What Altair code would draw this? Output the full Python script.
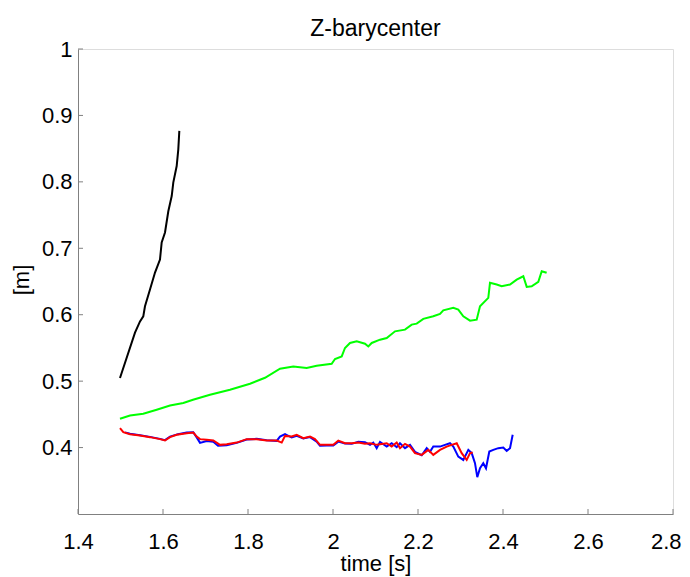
import altair as alt
import pandas as pd

black_t = [1.4988, 1.5341, 1.5459, 1.5536, 1.5576, 1.5694, 1.5812, 1.5929, 1.5969, 1.6047,
           1.6125, 1.6205, 1.6242, 1.6322, 1.6360, 1.6384]
black_v = [0.5047, 0.5730, 0.5900, 0.5976, 0.6127, 0.6379, 0.6635, 0.6831, 0.7088, 0.7238,
           0.7557, 0.7786, 0.7988, 0.8238, 0.8490, 0.8767]

green_t = [1.4988, 1.5224, 1.5536, 1.5852, 1.6165, 1.6478, 1.6706, 1.7106, 1.7576, 1.8047,
           1.8400, 1.8753, 1.9066, 1.9381, 1.9616, 1.9969, 2.0047, 2.0205, 2.0282, 2.0400,
           2.0558, 2.0753, 2.0831, 2.0911, 2.1106, 2.1264, 2.1459, 2.1694, 2.1852, 2.1969,
           2.2125, 2.2360, 2.2518, 2.2595, 2.2831, 2.2948, 2.3066, 2.3224, 2.3381, 2.3459,
           2.3654, 2.3694, 2.3852, 2.3969, 2.4165, 2.4322, 2.4478, 2.4558, 2.4675, 2.4831,
           2.4911, 2.4988, 2.5027]
green_v = [0.4433, 0.4483, 0.4508, 0.4569, 0.4633, 0.4670, 0.4719, 0.4795, 0.4870, 0.4961,
           0.5051, 0.5187, 0.5222, 0.5198, 0.5232, 0.5262, 0.5333, 0.5373, 0.5499, 0.5575,
           0.5599, 0.5564, 0.5523, 0.5575, 0.5624, 0.5650, 0.5750, 0.5775, 0.5851, 0.5866,
           0.5937, 0.5976, 0.6012, 0.6066, 0.6103, 0.6077, 0.5976, 0.5911, 0.5926, 0.6127,
           0.6253, 0.6480, 0.6454, 0.6428, 0.6454, 0.6529, 0.6579, 0.6419, 0.6428, 0.6495,
           0.6655, 0.6640, 0.6631]

blue_t = [1.5106, 1.5224, 1.5459, 1.5694, 1.5929, 1.6047, 1.6165, 1.6353, 1.6558, 1.6713,
          1.6800, 1.6871, 1.7028, 1.7184, 1.7294, 1.7499, 1.7734, 1.7969, 1.8205, 1.8440,
          1.8675, 1.8753, 1.8871, 1.9028, 1.9146, 1.9301, 1.9459, 1.9616, 1.9694, 1.9852,
          2.0007, 2.0125, 2.0282, 2.0440, 2.0595, 2.0753, 2.0871, 2.0948, 2.1028, 2.1106,
          2.1264, 2.1381, 2.1499, 2.1576, 2.1694, 2.1812, 2.1929, 2.2087, 2.2205, 2.2282,
          2.2360, 2.2518, 2.2635, 2.2753, 2.2831, 2.2948, 2.3066, 2.3184, 2.3264, 2.3341,
          2.3395, 2.3459, 2.3536, 2.3600, 2.3678, 2.3772, 2.3889, 2.4007, 2.4087, 2.4165,
          2.4228]
blue_v = [0.4229, 0.4207, 0.4187, 0.4161, 0.4131, 0.4112, 0.4166, 0.4202, 0.4226, 0.4232,
          0.4146, 0.4071, 0.4097, 0.4086, 0.4026, 0.4036, 0.4071, 0.4121, 0.4131, 0.4112,
          0.4101, 0.4166, 0.4202, 0.4151, 0.4176, 0.4136, 0.4157, 0.4090, 0.4026, 0.4030,
          0.4030, 0.4090, 0.4060, 0.4056, 0.4086, 0.4081, 0.4041, 0.4075, 0.3991, 0.4086,
          0.4015, 0.4066, 0.4006, 0.4066, 0.3991, 0.4041, 0.3935, 0.3885, 0.3991, 0.3935,
          0.4015, 0.4015, 0.4041, 0.4066, 0.4015, 0.3864, 0.3814, 0.3965, 0.3916, 0.3765,
          0.3554, 0.3689, 0.3765, 0.3689, 0.3940, 0.3965, 0.3991, 0.4000, 0.3950, 0.3991,
          0.4192]

red_t = [1.4988, 1.5066, 1.5224, 1.5459, 1.5694, 1.5929, 1.6047, 1.6165, 1.6322, 1.6558,
         1.6713, 1.6793, 1.6871, 1.7028, 1.7184, 1.7341, 1.7499, 1.7734, 1.7969, 1.8205,
         1.8440, 1.8675, 1.8793, 1.8871, 1.9028, 1.9146, 1.9301, 1.9459, 1.9576, 1.9694,
         1.9852, 2.0007, 2.0125, 2.0282, 2.0440, 2.0595, 2.0753, 2.0871, 2.1028, 2.1264,
         2.1381, 2.1499, 2.1576, 2.1694, 2.1812, 2.1929, 2.2087, 2.2242, 2.2360, 2.2518,
         2.2675, 2.2793, 2.2911, 2.3028, 2.3146, 2.3224, 2.3287]
red_v = [0.4293, 0.4232, 0.4202, 0.4181, 0.4157, 0.4127, 0.4106, 0.4157, 0.4192, 0.4217,
         0.4226, 0.4166, 0.4127, 0.4116, 0.4106, 0.4041, 0.4051, 0.4075, 0.4127, 0.4127,
         0.4106, 0.4106, 0.4075, 0.4176, 0.4166, 0.4192, 0.4142, 0.4166, 0.4127, 0.4041,
         0.4041, 0.4041, 0.4106, 0.4066, 0.4066, 0.4075, 0.4056, 0.4066, 0.4041, 0.4066,
         0.4015, 0.4075, 0.3991, 0.4056, 0.4015, 0.3916, 0.3890, 0.3965, 0.3890, 0.3965,
         0.4015, 0.4041, 0.4066, 0.3916, 0.3814, 0.3916, 0.3925]

x_ticks = [1.4, 1.6, 1.8, 2.0, 2.2, 2.4, 2.6, 2.8]
y_ticks = [0.4, 0.5, 0.6, 0.7, 0.8, 0.9, 1.0]

series = [("black", black_t, black_v, "#000000"),
          ("green", green_t, green_v, "#00ff00"),
          ("blue", blue_t, blue_v, "#0000ff"),
          ("red", red_t, red_v, "#ff0000")]

W, H = 595, 465
FONT = "Liberation Sans"
AXIS_COLOR = "#808080"

xscale = alt.Scale(domain=[1.4, 2.8], nice=False, zero=False)
yscale = alt.Scale(domain=[0.3, 1.0], nice=False, zero=False)

x_axis = alt.Axis(values=x_ticks, format="~g", grid=False,
                  ticks=False, domainColor=AXIS_COLOR, labelFontSize=22, labelFont=FONT,
                  labelColor="black", labelPadding=17, labelFlush=False,
                  labelAlign={"condition": {"test": "datum.value >= 2.79", "value": "right"},
                              "value": "center"},
                  labelOffset={"condition": {"test": "datum.value >= 2.79", "value": 8},
                               "value": 0},
                  title="time [s]", titleFont=FONT,
                  titleFontSize=22, titleFontWeight="normal", titleColor="black",
                  titleX=W / 2, titleY=49, titleBaseline="middle")
y_axis = alt.Axis(values=y_ticks, format="~g", grid=False,
                  ticks=False, domainColor=AXIS_COLOR, labelFontSize=22, labelFont=FONT,
                  labelColor="black", labelPadding=6, labelFlush=False,
                  title="[m]", titleFont=FONT,
                  titleFontSize=22, titleFontWeight="normal", titleColor="black",
                  titleX=-57, titleY=H / 2 - 2, titleAngle=270, titleBaseline="middle",
                  titleAlign="center")

layers = []
for name, ts, vs, color in series:
    df = pd.DataFrame({"t": ts, "v": vs, "order": list(range(len(ts)))})
    layers.append(alt.Chart(df).mark_line(color=color, strokeWidth=2).encode(
        x=alt.X("t:Q", scale=xscale, axis=x_axis, title="time [s]"),
        y=alt.Y("v:Q", scale=yscale, axis=y_axis, title="[m]"),
        order="order:Q"))

xt = pd.DataFrame({"t": x_ticks})
yt = pd.DataFrame({"v": y_ticks})
x_tick_marks = alt.Chart(xt).mark_rule(color=AXIS_COLOR, strokeWidth=1).encode(
    x=alt.X("t:Q", scale=xscale, axis=x_axis, title="time [s]"),
    y=alt.value(H), y2=alt.value(H - 5))
y_tick_marks = alt.Chart(yt).mark_rule(color=AXIS_COLOR, strokeWidth=1).encode(
    y=alt.Y("v:Q", scale=yscale, axis=y_axis, title="[m]"),
    x=alt.value(0), x2=alt.value(5))

chart = alt.layer(*layers, x_tick_marks, y_tick_marks).properties(
    width=W, height=H,
    title=alt.TitleParams("Z-barycenter", font=FONT, fontSize=23, fontWeight="normal",
                          color="black", anchor="middle", offset=-3, frame="group"),
    autosize="none",
    padding={"left": 70, "top": 41, "right": 9, "bottom": 62},
).configure_view(stroke=None).configure(background="white")

chart.save("out.html", embed_options={"renderer": "svg", "actions": False})
